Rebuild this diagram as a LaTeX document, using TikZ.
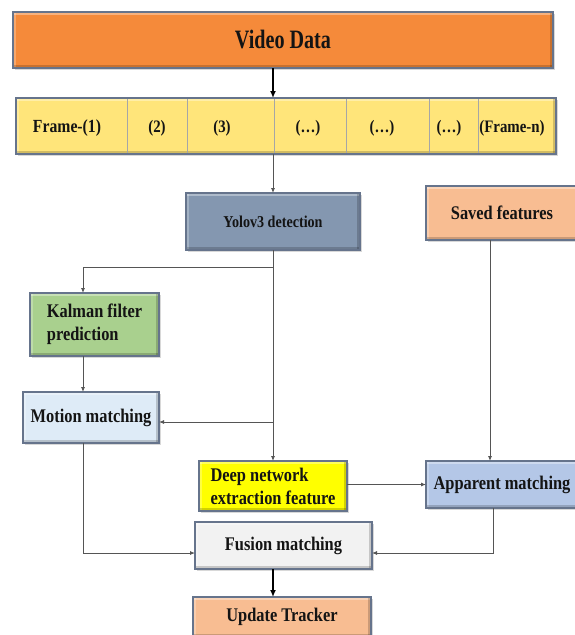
\documentclass[tikz,border=0pt]{standalone}
\usepackage{fontspec}
\setmainfont{Liberation Serif}[FakeStretch=0.85]
\newfontfamily\videofont{Liberation Serif}[FakeStretch=0.76]
\usetikzlibrary{arrows.meta,shadows,calc}
\definecolor{bordercol}{HTML}{66748C}
\definecolor{textcol}{HTML}{141414}
\definecolor{conncol}{HTML}{555555}
\definecolor{cVideo}{HTML}{F58A3A}
\definecolor{cFrame}{HTML}{FFE57A}
\definecolor{cYolo}{HTML}{8497B0}
\definecolor{cSaved}{HTML}{F8BD92}
\definecolor{cKalman}{HTML}{A9D08E}
\definecolor{cMotion}{HTML}{DEEBF7}
\definecolor{cDeep}{HTML}{FFFF00}
\definecolor{cApp}{HTML}{B4C7E7}
\definecolor{cFusion}{HTML}{F2F2F2}
\definecolor{cUpdate}{HTML}{F8BD92}
\newcommand\bevelpp{%
  \fill[white,opacity=0.35] (path picture bounding box.north west) rectangle ([yshift=-3pt]path picture bounding box.north east);
  \fill[white,opacity=0.25] (path picture bounding box.north west) rectangle ([xshift=3pt]path picture bounding box.south west);
  \fill[black,opacity=0.18] (path picture bounding box.south west) rectangle ([yshift=3pt]path picture bounding box.south east);
  \fill[black,opacity=0.18] ([xshift=-3pt]path picture bounding box.south east) rectangle (path picture bounding box.north east);}
\tikzset{
  box/.style={draw=bordercol, line width=1.1pt, inner sep=0pt, outer sep=0pt,
    font=\bfseries\fontsize{19.3}{23}\selectfont, text=textcol,
    drop shadow={shadow xshift=1.5pt, shadow yshift=-1.5pt, opacity=0.3},
    path picture={\bevelpp}},
  framelbl/.style={inner sep=0pt, font=\bfseries\fontsize{17.5}{20}\selectfont, text=textcol},
  divider/.style={draw=gray!70, line width=0.6pt},
  conn/.style={draw=conncol, line width=0.8pt, -{Latex[length=5pt,width=4pt]}},
  plain/.style={draw=conncol, line width=0.8pt},
  bigarrow/.style={draw=black, line width=1.6pt, -{Latex[length=7pt,width=6pt]}},
}
\begin{document}
\begin{tikzpicture}[x=1pt,y=-1pt]
\useasboundingbox (0,0) rectangle (575,635);
\fill[white] (0,0) rectangle (575,635);
% boxes
\node[box, fill=cVideo, minimum width=540, minimum height=56, font=\videofont\bfseries\fontsize{26.5}{30}\selectfont] (video) at (283,40) {Video Data};
\node[box, fill=cFrame, minimum width=540, minimum height=56] (frames) at (286,126) {};
\node[box, fill=cYolo, minimum width=174, minimum height=57, font=\bfseries\fontsize{16.6}{20}\selectfont] (yolo) at (273,221.5) {Yolov3 detection};
\node[box, fill=cSaved, minimum width=152, minimum height=54] (saved) at (502,213) {Saved features};
\node[box, fill=cKalman, minimum width=129, minimum height=63, align=left] (kalman) at (94.5,324.5) {Kalman filter\\prediction};
\node[box, fill=cMotion, minimum width=136, minimum height=51] (motion) at (91,417.5) {Motion matching};
\node[box, fill=cDeep, minimum width=148, minimum height=50, align=left] (deep) at (273,486) {Deep network\\extraction feature};
\node[box, fill=cApp, minimum width=152, minimum height=47] (app) at (502,484.5) {Apparent matching};
\node[box, fill=cFusion, minimum width=177, minimum height=47] (fusion) at (283.5,545.5) {Fusion matching};
\node[box, fill=cUpdate, minimum width=178, minimum height=40] (update) at (282,617) {Update Tracker};
% frame cells
\foreach \x in {127,187,274,346,429,478}
  \draw[divider] (\x,99) -- (\x,153);
\node[framelbl, font=\bfseries\fontsize{18.5}{20}\selectfont] (f1) at (67,128) {Frame-(1)};
\node[framelbl] (f2) at (157,128) {(2)};
\node[framelbl] (f3) at (222,128) {(3)};
\node[framelbl] (f4) at (308,128) {(…)};
\node[framelbl] (f5) at (382,128) {(…)};
\node[framelbl] (f6) at (449,128) {(…)};
\node[framelbl] (f7) at (512,128) {(Frame-n)};
% helper coordinates
\coordinate (lcol) at (83,0);
\coordinate (rcol) at (490,0);
\coordinate (br1) at (273,267);
\coordinate (br2) at (273,422);
\coordinate (fy) at (493,553);
% connectors
\draw[bigarrow] (video.south -| yolo.north) -- (frames.north -| yolo.north);
\draw[conn] (frames.south -| yolo.north) -- (yolo.north);
\draw[conn] (yolo.south) -- (br1) -- (br1 -| lcol) -- (kalman.north -| lcol);
\draw[conn] (br1) -- (deep.north -| yolo.south);
\draw[conn] (br2) -- (motion.east |- br2);
\draw[conn] (kalman.south -| lcol) -- (motion.north -| lcol);
\draw[conn] (deep.east |- app.west) -- (app.west);
\draw[conn] (saved.south -| rcol) -- (app.north -| rcol);
\draw[conn] (app.south -| fy) -- (fy) -- (fusion.east |- fy);
\draw[conn] (motion.south -| lcol) -- (lcol |- fy) -- (fusion.west |- fy);
\draw[bigarrow] (fusion.south -| yolo.north) -- (update.north -| yolo.north);
\end{tikzpicture}
\end{document}
